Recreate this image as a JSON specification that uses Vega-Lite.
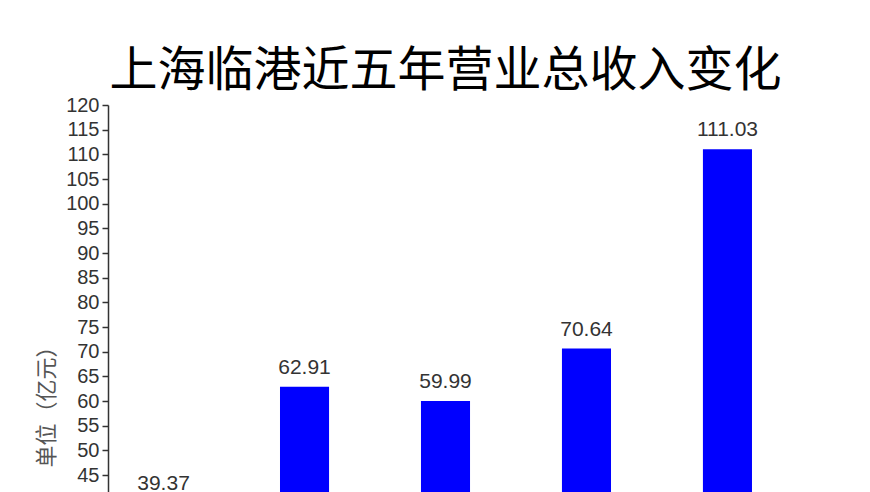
{
  "$schema": "https://vega.github.io/schema/vega-lite/v6.json",
  "autosize": {"type": "none"},
  "padding": {"left": 108, "top": 105, "right": 87, "bottom": 60},
  "width": 675,
  "height": 592,
  "background": "white",
  "config": {"view": {"stroke": null}},
  "title": {
    "text": "上海临港近五年营业总收入变化",
    "font": "Noto Sans CJK SC",
    "fontSize": 48,
    "fontWeight": "normal",
    "color": "#000000",
    "anchor": "middle",
    "offset": -1
  },
  "data": {
    "values": [
      {"year": "2017", "revenue": 39.37},
      {"year": "2018", "revenue": 62.91},
      {"year": "2019", "revenue": 59.99},
      {"year": "2020", "revenue": 70.64},
      {"year": "2021", "revenue": 111.03}
    ]
  },
  "encoding": {
    "x": {
      "field": "year",
      "type": "ordinal",
      "scale": {"paddingInner": 0.652, "paddingOuter": 0.22},
      "axis": {
        "title": null,
        "labelAngle": 0,
        "labelFont": "Liberation Sans",
        "labelFontSize": 20,
        "labelColor": "#333333",
        "domainColor": "#333333",
        "tickColor": "#333333"
      }
    },
    "y": {
      "field": "revenue",
      "type": "quantitative",
      "scale": {"domain": [0, 120], "nice": false},
      "axis": {
        "values": [0, 5, 10, 15, 20, 25, 30, 35, 40, 45, 50, 55, 60, 65, 70, 75, 80, 85, 90, 95, 100, 105, 110, 115, 120],
        "grid": false,
        "title": "单位（亿元）",
        "titleFont": "Noto Sans CJK SC",
        "titleFontSize": 22,
        "titleFontWeight": "normal",
        "titleColor": "#555555",
        "titlePadding": 7,
        "labelFont": "Liberation Sans",
        "labelFontSize": 20,
        "labelColor": "#333333",
        "labelPadding": 3,
        "domainColor": "#333333",
        "domainWidth": 1.5,
        "tickColor": "#333333",
        "tickWidth": 1.5,
        "tickSize": 6
      }
    }
  },
  "layer": [
    {"mark": {"type": "bar", "color": "#0000ff"}},
    {
      "mark": {
        "type": "text",
        "dy": -13,
        "baseline": "alphabetic",
        "font": "Liberation Sans",
        "fontSize": 21,
        "color": "#333333"
      },
      "encoding": {
        "y": {"field": "revenue", "type": "quantitative"},
        "text": {"field": "revenue", "type": "quantitative", "format": ".2f"}
      }
    }
  ]
}
